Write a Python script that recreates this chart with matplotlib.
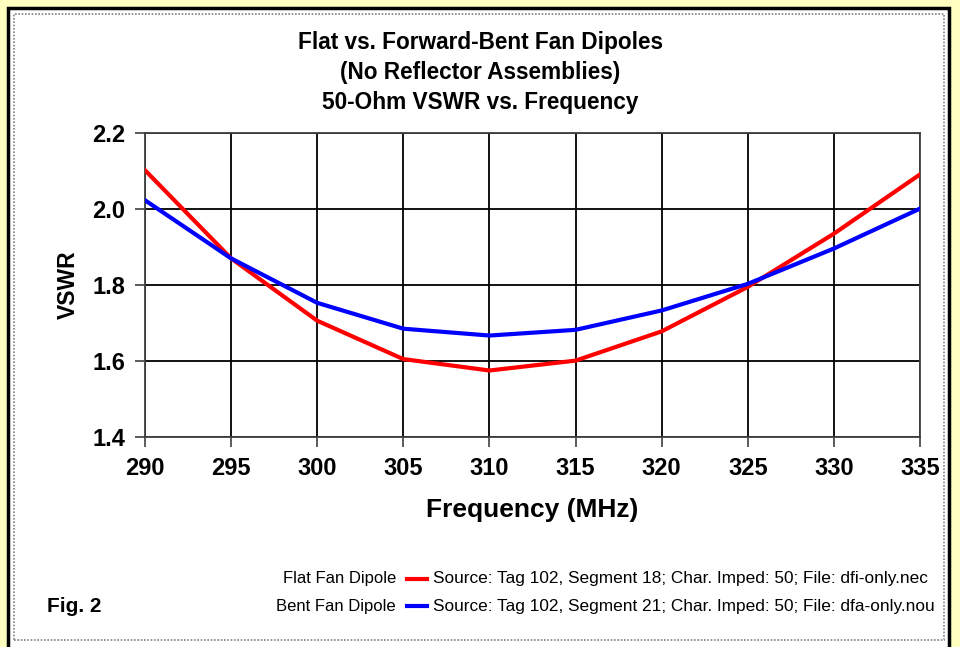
import matplotlib
matplotlib.use("Agg")
import matplotlib.pyplot as plt
from matplotlib.patches import Rectangle
from matplotlib.lines import Line2D

# frequency (MHz) and VSWR
freq = [290, 295, 300, 305, 310, 315, 320, 325, 330, 335]
vswr_flat = [2.102, 1.870, 1.706, 1.605, 1.575, 1.601, 1.678, 1.795, 1.935, 2.091]
vswr_bent = [2.023, 1.870, 1.753, 1.685, 1.667, 1.682, 1.733, 1.803, 1.896, 2.001]

title_lines = ["Flat vs. Forward-Bent Fan Dipoles",
               "(No Reflector Assemblies)",
               "50-Ohm VSWR vs. Frequency"]
series_names = ["Flat Fan Dipole", "Bent Fan Dipole"]
series_sources = ["Source: Tag 102, Segment 18; Char. Imped: 50; File: dfi-only.nec",
                  "Source: Tag 102, Segment 21; Char. Imped: 50; File: dfa-only.nou"]
series_colors = ["#FF0000", "#0000FF"]

plt.rcParams["font.family"] = ["Liberation Sans", "DejaVu Sans"]

W, H = 960, 647
fig = plt.figure(figsize=(W / 100, H / 100), dpi=100, facecolor="#FFFFC0")

# panel with black frame and dotted inner border
fig.patches.append(Rectangle((8 / W, -0.05), 941 / W, 1.05 - 8 / H, transform=fig.transFigure,
                             facecolor="white", edgecolor="black", linewidth=2.5, zorder=-3))
fig.patches.append(Rectangle((14 / W, 7 / H), 930 / W, (H - 21) / H, transform=fig.transFigure,
                             facecolor="none", edgecolor="#808080", linewidth=1.2,
                             linestyle=(0, (1, 1)), zorder=-2))

ax = fig.add_axes([145 / W, 1 - 437 / H, 775 / W, 304 / H])
ax.set_facecolor("white")

ax.plot(freq, vswr_flat, color=series_colors[0], linewidth=3, zorder=3)
ax.plot(freq, vswr_bent, color=series_colors[1], linewidth=3, zorder=3)

ax.set_xlim(290, 335)
ax.set_ylim(1.4, 2.2)
ax.set_xticks(range(290, 336, 5))
ax.set_yticks([1.4, 1.6, 1.8, 2.0, 2.2])
ax.set_yticklabels(["1.4", "1.6", "1.8", "2.0", "2.2"])
ax.grid(True, color="black", linewidth=1.3)
ax.set_axisbelow(True)
ax.tick_params(direction="out", length=7, width=1.2, color="#404040", labelsize=17)
ax.tick_params(axis="x", pad=7.5)
ax.tick_params(axis="y", pad=7)
for lab in ax.get_xticklabels() + ax.get_yticklabels():
    lab.set_fontweight("bold")
for s in ax.spines.values():
    s.set_color("#404040")
    s.set_linewidth(1.3)

ax.set_xlabel("Frequency (MHz)", fontsize=19, fontweight="bold", labelpad=13)
ax.set_ylabel("VSWR", fontsize=16.5, fontweight="bold", labelpad=9)

for i, line in enumerate(title_lines):
    fig.text(0.5, 1 - (42 + 30 * i) / H, line, ha="center", va="center",
             fontsize=16.3, fontweight="bold")

# legend rows
for i in range(2):
    yrow = 1 - (579 + 27 * i) / H
    fig.text(396 / W, yrow, series_names[i], ha="right", va="center", fontsize=12)
    fig.lines.append(Line2D([407 / W, 427 / W], [yrow, yrow], transform=fig.transFigure,
                            color=series_colors[i], linewidth=3))
    fig.text(433 / W, yrow, series_sources[i], ha="left", va="center", fontsize=12.4)

fig.text(47 / W, 1 - 606 / H, "Fig. 2", ha="left", va="center",
         fontsize=15, fontweight="bold")

fig.savefig("out.png", dpi=100, facecolor=fig.get_facecolor())
